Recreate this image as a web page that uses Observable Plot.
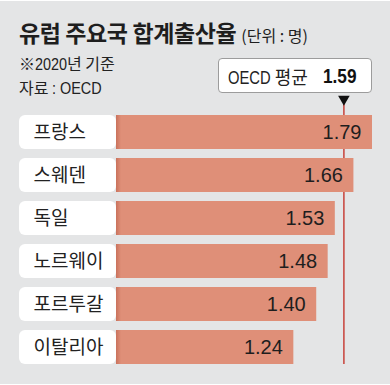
<!DOCTYPE html>
<html>
<head>
<meta charset="utf-8">
<script src="https://cdn.jsdelivr.net/npm/d3@7"></script>
<script src="https://cdn.jsdelivr.net/npm/@observablehq/plot@0.6"></script>
<style>
  html, body { margin: 0; padding: 0; background: #ffffff; }
  #wrap { position: relative; width: 390px; height: 383px; background: #e4e5e6; overflow: hidden; margin-top: 1px;
          font-family: "Liberation Sans", "Noto Sans CJK KR", sans-serif; color: #1e1e1e; }
  .ko { font-family: "Noto Sans CJK KR", sans-serif; }
  #title { position: absolute; left: 19px; top: 20px; line-height: 1; white-space: nowrap;
           font-family: "Noto Sans CJK KR", sans-serif; font-weight: 700; font-size: 23px; letter-spacing: -0.4px; color: #1e1e1e; }
  #title .unit { font-weight: 400; font-size: 16px; letter-spacing: 0; margin-left: 5px; }
  .sub { position: absolute; left: 19px; font-size: 16px; line-height: 1; color: #222; white-space: nowrap; }
  #avgbox { position: absolute; left: 218px; top: 57px; width: 152px; height: 33px; background: #fff;
            border: 1px solid #9c9c9c; border-radius: 4px; display: flex; align-items: center; box-sizing: content-box; }
  #avgbox .lab { font-size: 18px; margin-left: 9px; color: #222; white-space: nowrap; }
  #avgbox .num { font-size: 21px; font-weight: 700; margin-left: 15px; color: #111; }
  #plot { position: absolute; left: 0; top: -1px; }
</style>
</head>
<body>
<div id="wrap">
  <div id="plot"></div>
  <div id="title">유럽 주요국 합계출산율<span class="unit">(단위 : 명)</span></div>
  <div class="sub" style="top:54px"><span class="ko">※</span><span class="n" data-k="0.9">2020</span><span class="ko">년 기준</span></div>
  <div class="sub" style="top:77.5px"><span class="ko">자료 </span><span class="n" data-k="0.9">: OECD</span></div>
  <div id="avgbox"><span class="lab"><span class="n">OECD</span><span class="ko"> 평균</span></span><span class="num"><span class="n" id="avgnum"></span></span></div>
</div>
<script>
const countries = ["프랑스", "스웨덴", "독일", "노르웨이", "포르투갈", "이탈리아"];
const values = [1.79, 1.66, 1.53, 1.48, 1.40, 1.24];
const oecdAvg = 1.59;

const rows = countries.map((c, i) => ({country: c, value: values[i]}));

document.getElementById("avgnum").textContent = oecdAvg.toFixed(2);

const chart = Plot.plot({
  width: 390,
  height: 385,
  marginTop: 110,
  marginBottom: 16.5,
  marginLeft: 116,
  marginRight: 18,
  style: {background: "transparent", fontFamily: "Liberation Sans, Noto Sans CJK KR, sans-serif"},
  x: {domain: [0, 1.79], axis: null},
  y: {domain: countries, paddingInner: 0.21, paddingOuter: 0.1, axis: null},
  marks: [
    Plot.ruleX([oecdAvg], {x: d => d, stroke: "#c8423a", strokeWidth: 1.5, insetTop: -8, insetBottom: 4.5}),
    Plot.barX(rows, {y: "country", x1: 0, x2: 0, insetLeft: -97, insetRight: 0, fill: "#ffffff", rx: 6}),
    Plot.barX(rows, {y: "country", x: "value", fill: "#df8f78"}),
    Plot.barX(rows, {y: "country", x1: 0, x2: 0, insetRight: -5, fill: "url(#edgegrad)"}),
    Plot.text(rows, {y: "country", frameAnchor: "left", text: "country", textAnchor: "start", dx: -83,
                     fontSize: 19, fill: "#222", fontFamily: "Noto Sans CJK KR, sans-serif"}),
    Plot.text(rows, {y: "country", x: "value", text: d => d.value.toFixed(2), textAnchor: "end", dx: -11,
                     fontSize: 20, fill: "#1e1e1e", fontFamily: "Liberation Sans, Arial, sans-serif", ariaLabel: "value-labels"}),
    Plot.dot([oecdAvg], {x: d => d, frameAnchor: "top", symbol: "triangle", r: 4.3, fill: "#111", stroke: "none", rotate: 180, dy: -11.5})
  ]
});

const defs = d3.select(chart).insert("defs", ":first-child");
const g = defs.append("linearGradient").attr("id", "edgegrad").attr("x1", "0").attr("x2", "1").attr("y1", "0").attr("y2", "0");
g.append("stop").attr("offset", "0").attr("stop-color", "#b85a45").attr("stop-opacity", 0.55);
g.append("stop").attr("offset", "1").attr("stop-color", "#b85a45").attr("stop-opacity", 0);

document.getElementById("plot").appendChild(chart);

// condensed Latin face, as in the reference
const K = 0.82;
d3.select(chart).selectAll("g[aria-label='value-labels'] text").each(function() {
  const w = this.getComputedTextLength();
  this.setAttribute("textLength", w * K);
  this.setAttribute("lengthAdjust", "spacingAndGlyphs");
});
document.querySelectorAll("span.n").forEach(el => {
  const k = el.dataset.k ? +el.dataset.k : K;
  el.style.display = "inline-block";
  const w = el.getBoundingClientRect().width;
  el.style.transform = `scaleX(${k})`;
  el.style.transformOrigin = "left center";
  el.style.marginRight = `${-(1 - k) * w}px`;
  el.style.whiteSpace = "pre";
});
</script>
</body>
</html>
